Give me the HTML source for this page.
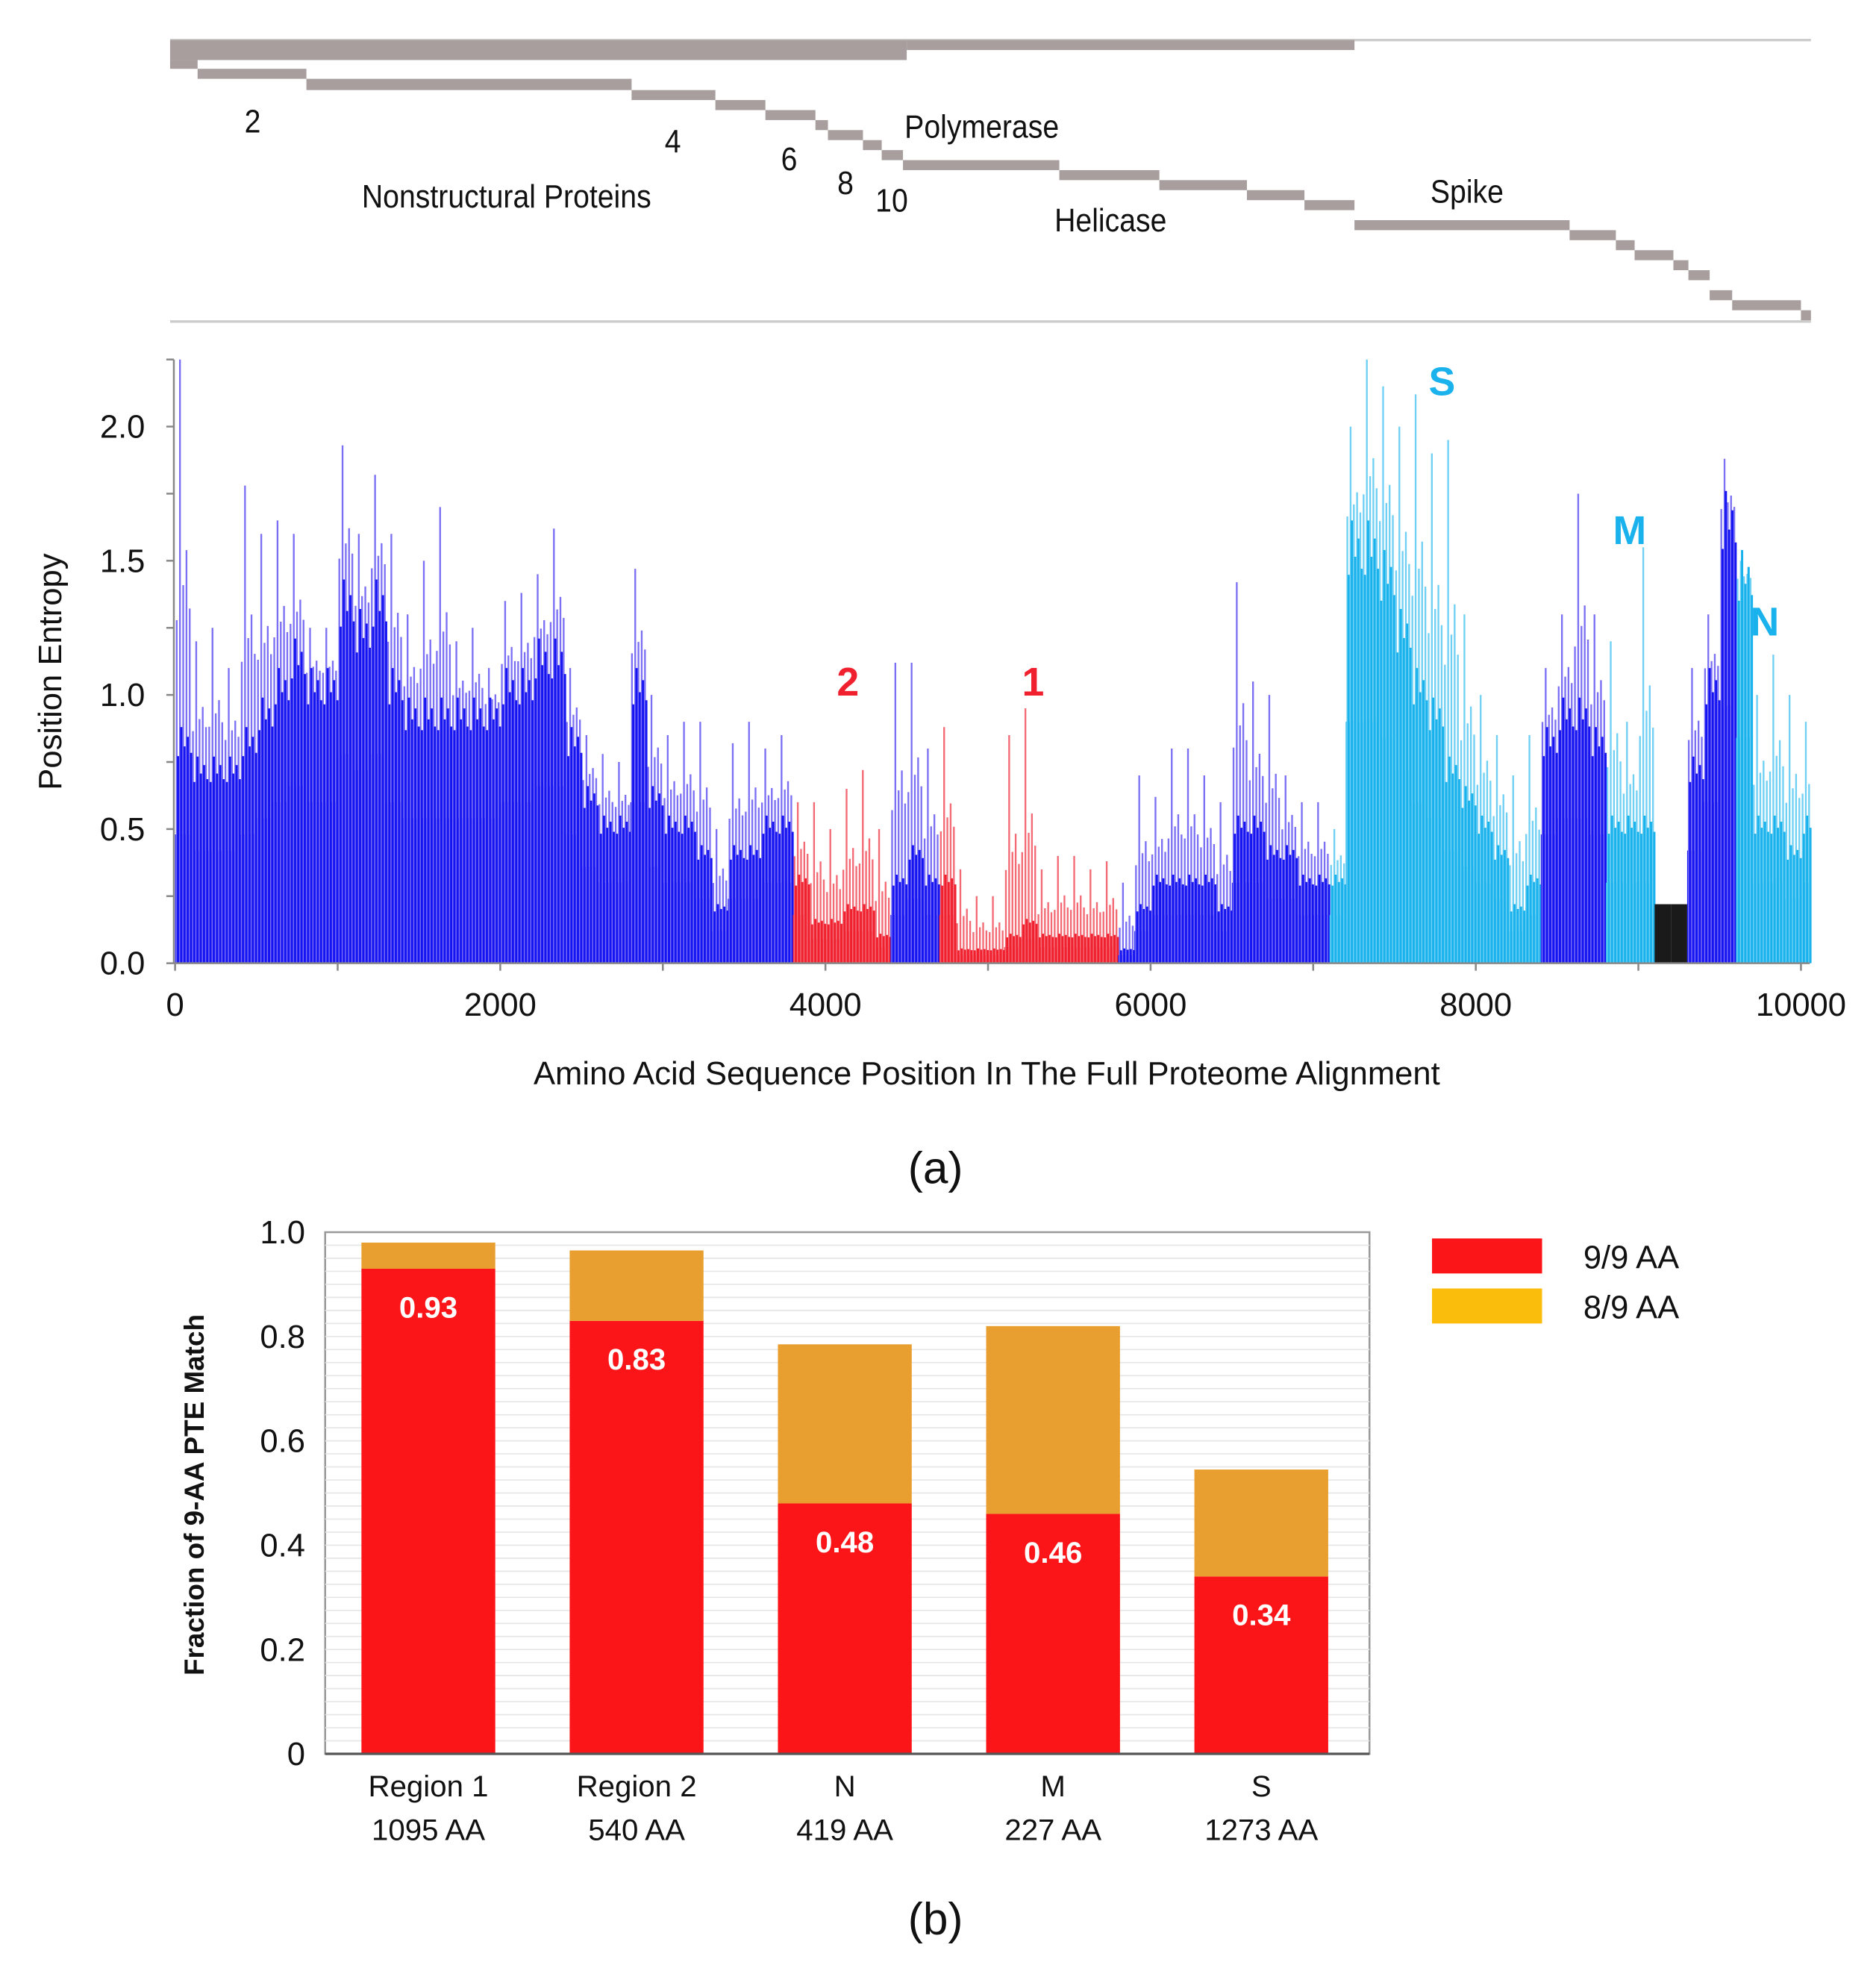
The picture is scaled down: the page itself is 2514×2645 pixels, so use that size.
<!DOCTYPE html>
<html><head><meta charset="utf-8"><style>
html,body{margin:0;padding:0;background:#fff;}
svg{display:block;}
text{font-family:"Liberation Sans",sans-serif;}
</style></head><body>
<svg id="fig" width="2514" height="2645" viewBox="0 0 1500 1578" preserveAspectRatio="none" xmlns="http://www.w3.org/2000/svg">
<g id="genome"></g>
<g id="entropy"></g>
<g id="bars"></g>
</svg>
<script>
// ---- Entropy chart data (bins of 100 positions) ----
const binStarts = [];
for (let i = 0; i <= 100; i++) binStarts.push(i * 100);
const entropyPeak = [2.25,1.2,1.25,1.1,1.78,1.6,1.65,1.6,1.25,1.25,1.93,1.6,1.82,1.6,1.3,1.5,1.7,1.2,1.25,1.1,1.35,1.38,1.45,1.62,1.1,0.85,0.78,0.75,1.47,1.0,0.85,0.9,0.9,0.5,0.82,0.9,0.8,0.85,0.6,0.6,0.5,0.65,0.72,0.5,1.12,1.12,0.8,0.88,0.35,0.25,0.25,0.85,0.95,0.35,0.4,0.4,0.35,0.38,0.3,0.7,0.62,0.8,0.8,0.7,0.6,1.42,1.05,1.0,0.7,0.6,0.6,0.5,2.0,2.25,2.15,2.0,2.12,1.9,1.95,1.3,1.0,0.85,0.7,0.85,1.1,1.3,1.75,1.3,1.2,0.9,1.55,0.22,0.22,1.1,1.3,1.88,1.5,1.0,1.15,1.0,0.9];
const entropyBody = [0.8,0.7,0.7,0.7,0.8,0.9,1.0,1.1,1.0,1.0,1.3,1.2,1.3,1.0,0.9,0.9,0.9,0.9,0.9,0.9,1.0,1.0,1.1,1.1,0.8,0.6,0.5,0.5,1.0,0.6,0.5,0.5,0.4,0.2,0.4,0.4,0.5,0.5,0.3,0.15,0.15,0.2,0.2,0.1,0.3,0.4,0.3,0.3,0.05,0.05,0.05,0.1,0.15,0.1,0.1,0.1,0.1,0.1,0.05,0.2,0.3,0.3,0.3,0.3,0.2,0.5,0.5,0.4,0.4,0.3,0.3,0.3,1.5,1.5,1.4,1.2,1.0,0.9,0.7,0.6,0.5,0.4,0.2,0.3,0.8,0.9,0.9,0.8,0.5,0.5,0.5,0.22,0.22,0.7,1.0,1.6,1.4,0.5,0.5,0.4,0.5];
const xTicks = [0,2000,4000,6000,8000,10000];
const yTicks = [0.0,0.5,1.0,1.5,2.0];
// ---- Bar chart data ----
const categories = ["Region 1","Region 2","N","M","S"];
const catSub = ["1095 AA","540 AA","419 AA","227 AA","1273 AA"];
const match9 = [0.93,0.83,0.48,0.46,0.34];
const match8 = [0.05,0.135,0.305,0.36,0.205];
const barYTicks = [0,0.2,0.4,0.6,0.8,1.0];
const barYTickLabels = ["0","0.2","0.4","0.6","0.8","1.0"];

const NS="http://www.w3.org/2000/svg";
function mk(tag, attrs, parent, txt){const e=document.createElementNS(NS,tag);for(const k in attrs)e.setAttribute(k,attrs[k]);if(txt!==undefined)e.textContent=txt;parent.appendChild(e);return e;}

// ---- Genome map ----
const G=document.getElementById('genome');
const gray="#a89e9e";
let l=mk('line',{x1:136,y1:32,x2:1448,y2:32,stroke:"#ccc","stroke-width":2},G);


l=mk('line',{x1:136,y1:257,x2:1448,y2:257,stroke:"#ccc","stroke-width":2},G);


const segs=[[136,725,32,48],[725,1083,32,40],[136,158,48,55],[158,245,55,63],[245,505,63,72],[505,572,72,80],[572,612,80,88],[612,652,88,96],[652,662,96,104],[662,690,104,112],[690,705,112,120],[705,722,120,128],[722,847,128,136],[847,927,136,144],[927,997,144,152],[997,1043,152,160],[1043,1083,160,168],[1083,1255,176,184],[1255,1292,184,192],[1292,1307,192,200],[1307,1338,200,208],[1338,1350,208,216],[1350,1367,216,224],[1367,1385,232,240],[1385,1440,240,248],[1440,1448,248,256]];
segs.forEach(s=>{const r=mk('rect',{x:s[0],y:s[2],width:s[1]-s[0],height:s[3]-s[2],fill:gray},G);

});
const glabels=[["2",202,106],["4",538,122],["6",631,136],["8",676,155],["10",713,169],["Polymerase",785,110],["Nonstructural Proteins",405,166],["Helicase",888,185],["Spike",1173,162]];
glabels.forEach(g=>{const t=mk('text',{x:g[1],y:g[2],"text-anchor":"middle","font-size":26,fill:"#111",transform:`translate(${g[1]*0.1},0) scale(0.9,1)`},G,g[0]);

});

// ---- Entropy chart ----
const E=document.getElementById('entropy');
const ex=v=>140+v*0.13, ey=v=>770-v*214.5;
function kindOf(p){if(p>=3850&&p<4370)return'r';if(p>=4370&&p<4750)return'b';if(p>=4750&&p<5850)return'r';if(p>=7150&&p<8400)return'c';if(p>=8800&&p<9100)return'c';if(p>=9100&&p<9300)return'k';if(p>=9650)return'c';return'b';}
const colBody={b:"#1515f2",r:"#f0202e",c:"#1ab2ec",k:"#1a1a1a"};
const colPeak={b:"#7b70f4",r:"#f36a74",c:"#6fd0f4",k:"#1a1a1a"};
const offs=[10,30,50,70,90];
const fr=[0.55,1.0,0.7,0.85,0.6];
binStarts.forEach((p,i)=>{
  const k=kindOf(p+50);
  const w=(i===100)?50:100;
  const bh=(k==='k')?entropyBody[i]:entropyBody[i]*0.6;
  const body=mk('rect',{x:ex(p),y:ey(bh),width:ex(p+w)-ex(p),height:ey(0)-ey(bh),fill:colBody[k]},E);
  
  
  if(k==='k')return;
  offs.forEach((o,j)=>{
    if(p+o>10050)return;
    const h=entropyBody[i]+(entropyPeak[i]-entropyBody[i])*fr[j]*(j===1?1:0.6);
    const pk=mk('line',{x1:ex(p+o),x2:ex(p+o),y1:ey(0),y2:ey(h),stroke:colPeak[k],"stroke-width":1.4},E);
    
    
    const hb=entropyBody[i]*(0.8+0.3*fr[j]);
    const lo=mk('line',{x1:ex(p+o+8),x2:ex(p+o+8),y1:ey(0),y2:ey(hb),stroke:colBody[k],"stroke-width":1.8},E);
    
    
  });
});
let ax=mk('line',{x1:139,y1:ey(2.25),x2:139,y2:ey(0),stroke:"#888","stroke-width":1.5},E);


ax=mk('line',{x1:139,y1:ey(0),x2:1447,y2:ey(0),stroke:"#888","stroke-width":1.5},E);


for(let v=0;v<=2.25;v+=0.25){const t=mk('line',{x1:133,x2:139,y1:ey(v),y2:ey(v),stroke:"#888","stroke-width":1.5},E);

}
yTicks.forEach(v=>{const t=mk('text',{x:116,y:ey(v)+9,"text-anchor":"end","font-size":26,fill:"#111"},E,v.toFixed(1));

});
for(let v=0;v<=10000;v+=1000){const t=mk('line',{x1:ex(v),x2:ex(v),y1:ey(0),y2:ey(0)+6,stroke:"#888","stroke-width":1.5},E);

}
xTicks.forEach(v=>{const t=mk('text',{x:ex(v),y:812,"text-anchor":"middle","font-size":26,fill:"#111"},E,String(v));

});
let tt=mk('text',{x:789,y:867,"text-anchor":"middle","font-size":26,fill:"#111"},E,"Amino Acid Sequence Position In The Full Proteome Alignment");


tt=mk('text',{x:0,y:0,"text-anchor":"middle","font-size":26,fill:"#111",transform:"translate(49,537) rotate(-90)"},E,"Position Entropy");


[["S",1153,316,"#1ab2ec"],["M",1303,435,"#1ab2ec"],["N",1411,508,"#1ab2ec"],["2",678,556,"#f0202e"],["1",826,556,"#f0202e"]].forEach(a=>{
 const t=mk('text',{x:a[1],y:a[2],"text-anchor":"middle","font-size":32,"font-weight":"bold",fill:a[3]},E,a[0]);
 
 });
tt=mk('text',{x:748,y:946,"text-anchor":"middle","font-size":36,fill:"#111","font-family":"Liberation Serif"},E,"(a)");



// ---- Bar chart ----
const B=document.getElementById('bars');
const by=v=>1402-v*417, bx=i=>289+i*166.5;
const bw=107;
let pa=mk('rect',{x:260,y:985,width:835,height:417,fill:"#fff",stroke:"#999","stroke-width":1.5},B);


for(let v=0.025;v<1;v+=0.025){const g=mk('line',{x1:260,x2:1095,y1:by(v),y2:by(v),stroke:"#e6e6e6","stroke-width":1},B);

}
categories.forEach((c,i)=>{
  const x=bx(i);
  let r=mk('rect',{x:x,y:by(match9[i]),width:bw,height:by(0)-by(match9[i]),fill:"#fb1518"},B);
  
  
  r=mk('rect',{x:x,y:by(match9[i]+match8[i]),width:bw,height:by(match9[i])-by(match9[i]+match8[i]),fill:"#e99f2f"},B);
  
  
  let t=mk('text',{x:x+bw/2,y:by(match9[i])+39,"text-anchor":"middle","font-size":24,"font-weight":"bold",fill:"#fff"},B,match9[i].toFixed(2));
  
  
  t=mk('text',{x:x+bw/2,y:1436,"text-anchor":"middle","font-size":24,fill:"#111"},B,c);
  
  
  t=mk('text',{x:x+bw/2,y:1471,"text-anchor":"middle","font-size":24,fill:"#111"},B,catSub[i]);
  
  
});
let bl=mk('line',{x1:260,x2:1095,y1:by(0),y2:by(0),stroke:"#555","stroke-width":2},B);


barYTicks.forEach((v,i)=>{const t=mk('text',{x:244,y:by(v)+9,"text-anchor":"end","font-size":26,fill:"#111"},B,barYTickLabels[i]);

});
tt=mk('text',{x:0,y:0,"text-anchor":"middle","font-size":22,"font-weight":"bold",fill:"#111",transform:"translate(163,1195) rotate(-90)"},B,"Fraction of 9-AA PTE Match");


let lg=mk('rect',{x:1145,y:990,width:88,height:28,fill:"#fb1518"},B);


lg=mk('rect',{x:1145,y:1030,width:88,height:28,fill:"#fbbd0c"},B);


lg=mk('text',{x:1266,y:1014,"font-size":26,fill:"#111"},B,"9/9 AA");


lg=mk('text',{x:1266,y:1054,"font-size":26,fill:"#111"},B,"8/9 AA");


tt=mk('text',{x:748,y:1546,"text-anchor":"middle","font-size":36,fill:"#111","font-family":"Liberation Serif"},B,"(b)");


</script>
</body></html>
